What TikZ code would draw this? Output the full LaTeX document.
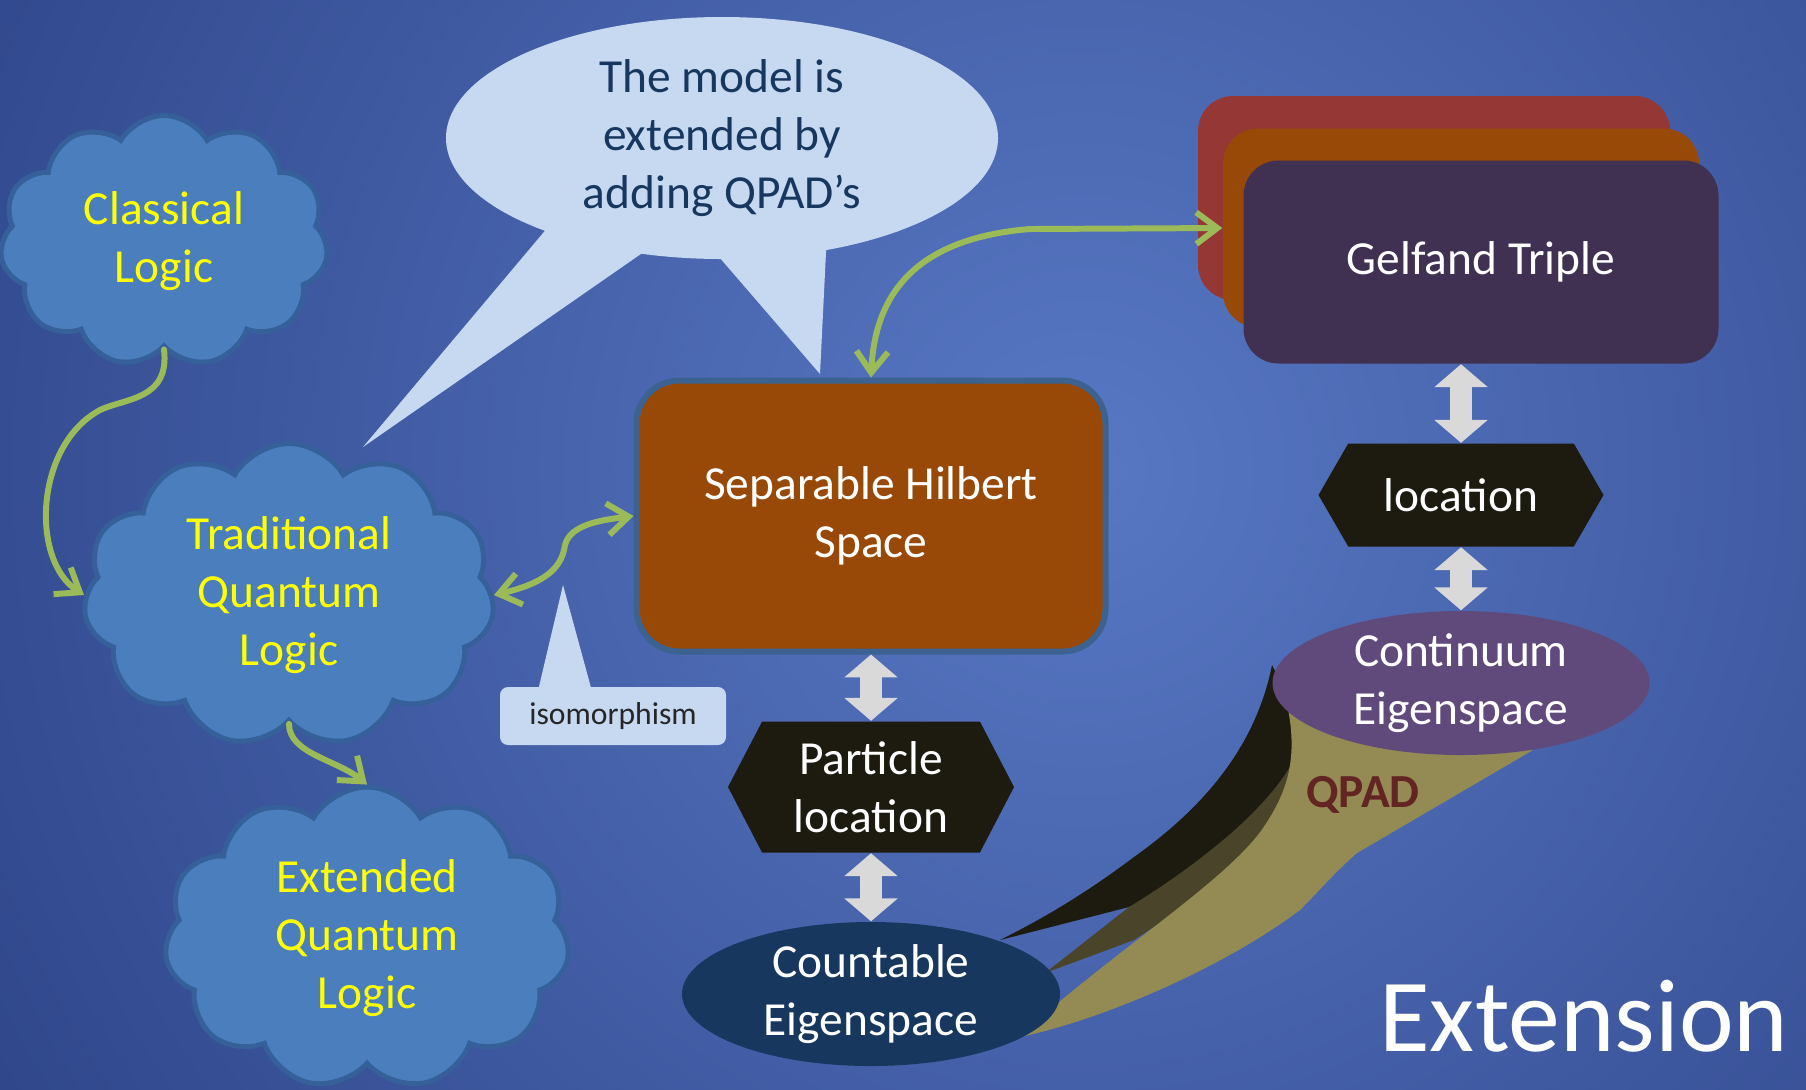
\documentclass[tikz,border=0pt]{standalone}
\usepackage{fontspec}
\setmainfont{Carlito}
\usetikzlibrary{shapes.symbols,shapes.geometric,arrows.meta}

\definecolor{bgin}{HTML}{5878C4}
\definecolor{bgout}{HTML}{1E3172}
\definecolor{cloudfill}{HTML}{4A7EBD}
\definecolor{cloudedge}{HTML}{35609A}
\definecolor{boxedge}{HTML}{3B6290}
\definecolor{logicyellow}{HTML}{FFFF00}
\definecolor{bubblefill}{HTML}{C6D9F1}
\definecolor{bubbletext}{HTML}{17375E}
\definecolor{linkgreen}{HTML}{9BBB59}
\definecolor{swapgray}{HTML}{D9D9D9}
\definecolor{rust}{HTML}{984807}
\definecolor{wine}{HTML}{953735}
\definecolor{plum}{HTML}{403152}
\definecolor{hexfill}{HTML}{1D1B10}
\definecolor{violet}{HTML}{604A7B}
\definecolor{navy}{HTML}{17375E}
\definecolor{khaki}{HTML}{948A54}
\definecolor{olive}{HTML}{4A452A}
\definecolor{qpadred}{HTML}{632523}

\begin{document}
\begin{tikzpicture}
    [
        x=0.1mm, y=-0.1mm,
        every node/.style={font=\fontsize{13.5}{16.4}\selectfont, align=center, inner sep=0pt},
        puff/.style={
                cloud, cloud puffs=11, cloud puff arc=120, cloud ignores aspect,
                draw=cloudedge, line width=1.4pt, fill=cloudfill, text=logicyellow,
            },
        box/.style={rectangle, rounded corners=3.5mm, fill=#1, text=white},
        hexa/.style={signal, signal to=west and east, fill=hexfill, text=white},
        space/.style={ellipse, fill=#1, text=white, inner ysep=-2pt},
        link/.style={draw=linkgreen, line width=1.7pt, line cap=round, -{Straight Barb[length=6pt,width=9pt]}},
        bothway/.style={link, {Straight Barb[length=6pt,width=9pt]}-{Straight Barb[length=6pt,width=9pt]}},
        swap/.style={draw=swapgray, line width=6.3pt, {Triangle[length=6.5pt,width=14.8pt]}-{Triangle[length=6.5pt,width=14.8pt]}},
    ]

    % background
    \useasboundingbox (0,0) rectangle (1806,1089);
    \begin{scope}
        \clip (0,0) rectangle (1806,1089);
        \fill [bgout] (0,0) rectangle (1806,1089);
        \shade [inner color=bgin, outer color=bgout] (1083,470) circle (18cm);
    \end{scope}

    % speech bubble with two tails
    \fill [bubblefill] (559,214) -- (363,447) -- (661,240) -- cycle;
    \fill [bubblefill] (707,243) -- (820,374) -- (827,232) -- cycle;
    \node [ellipse, fill=bubblefill, text=bubbletext, minimum width=5.52cm, minimum height=2.42cm] (bubble) at (722,138)
        {The model is\\extended by\\adding QPAD’s};

    % QPAD funnel, three layers
    \fill [hexfill] (1272,665) .. controls (1255,750) and (1200,810) .. (1134,857)
        .. controls (1090,890) and (1050,915) .. (1000,940) -- (1129,907) -- (1240,860) -- (1310,740) -- cycle;
    \fill [olive] (1298,700) -- (1295,757) .. controls (1270,810) and (1190,870) .. (1129,907)
        -- (1045,973) -- (1134,940) -- (1270,850) -- (1320,720) -- cycle;
    \fill [khaki] (1278,670) .. controls (1300,740) and (1295,780) .. (1265,825)
        .. controls (1230,880) and (1100,960) .. (1020,1037)
        .. controls (1100,1020) and (1220,970) .. (1300,910)
        .. controls (1320,890) and (1335,872) .. (1357,853) -- (1533,750) -- cycle;
    \node [text=qpadred, font=\fontsize{13.5}{16.4}\selectfont\bfseries] (qpad) at (1363,795) {QPAD};

    % logics
    \node [puff, minimum width=3.28cm, minimum height=2.51cm] (classical) at (164,241) {Classical\\Logic};
    \node [puff, minimum width=4.11cm, minimum height=3.03cm] (traditional) at (289,595) {Traditional\\Quantum\\Logic};
    \node [puff, minimum width=4.05cm, minimum height=3.02cm] (extended) at (367,938) {Extended\\Quantum\\Logic};

    % Hilbert space side
    \node [box=rust, rounded corners=4.3mm, draw=boxedge, line width=1.7pt, minimum width=4.69cm, minimum height=2.71cm] (sep) at (871,516)
        {Separable Hilbert\\Space};
    \node [hexa, signal pointer angle=125, minimum width=2.86cm, minimum height=1.31cm] (particle) at (871,787)
        {Particle\\location};
    \node [space=navy, minimum width=3.78cm, minimum height=1.44cm] (countable) at (871,994)
        {Countable\\Eigenspace};

    % Gelfand triple side
    \node [box=wine, minimum width=4.72cm, minimum height=2.04cm] (gelfandback) at (1434,198) {};
    \node [box=rust, minimum width=4.76cm, minimum height=1.99cm] (gelfandmid) at (1461,228) {};
    \node [box=plum, minimum width=4.75cm, minimum height=2.03cm] (gelfand) at (1481,262) {Gelfand Triple};
    \node [hexa, signal pointer angle=120, minimum width=2.85cm, minimum height=1.03cm] (location) at (1461,495)
        {location};
    \node [space=violet, minimum width=3.77cm, minimum height=1.44cm] (continuum) at (1461,683)
        {Continuum\\Eigenspace};

    % isomorphism callout
    \fill [bubblefill] (537,695) -- (563,585) -- (593,695) -- cycle;
    \node [rectangle, rounded corners=0.8mm, fill=bubblefill, text=black!85, font=\fontsize{9}{11}\selectfont,
        minimum width=2.26cm, minimum height=0.58cm] (iso) at (613,716) {isomorphism};

    % green links
    \draw [link] (classical.south) .. controls (170,400) and (125,398) .. (100,410)
        .. controls (35,445) and (30,560) .. (traditional.west);
    \draw [link] (traditional.south) .. controls +(0,30) and +(-30,-25) .. (extended.north);
    \draw [bothway] (traditional.east) .. controls (550,582) and (562,565) .. (565,545)
        .. controls (570,525) and (600,520) .. (sep.west);
    \draw [bothway] (sep.north) .. controls (875,290) and (920,238) .. (1030,229) -- (gelfandmid.west);

    % gray block arrows
    \draw [swap] (sep.south) -- (particle.north);
    \draw [swap] (particle.south) -- (countable.north);
    \draw [swap] (location.north |- gelfand.south) -- (location.north);
    \draw [swap] (location.south) -- (continuum.north);

    \node [anchor=base east, text=white, font=\fontsize{29.5}{35}\selectfont] (title) at (1789,1051) {Extension};
\end{tikzpicture}
\end{document}
